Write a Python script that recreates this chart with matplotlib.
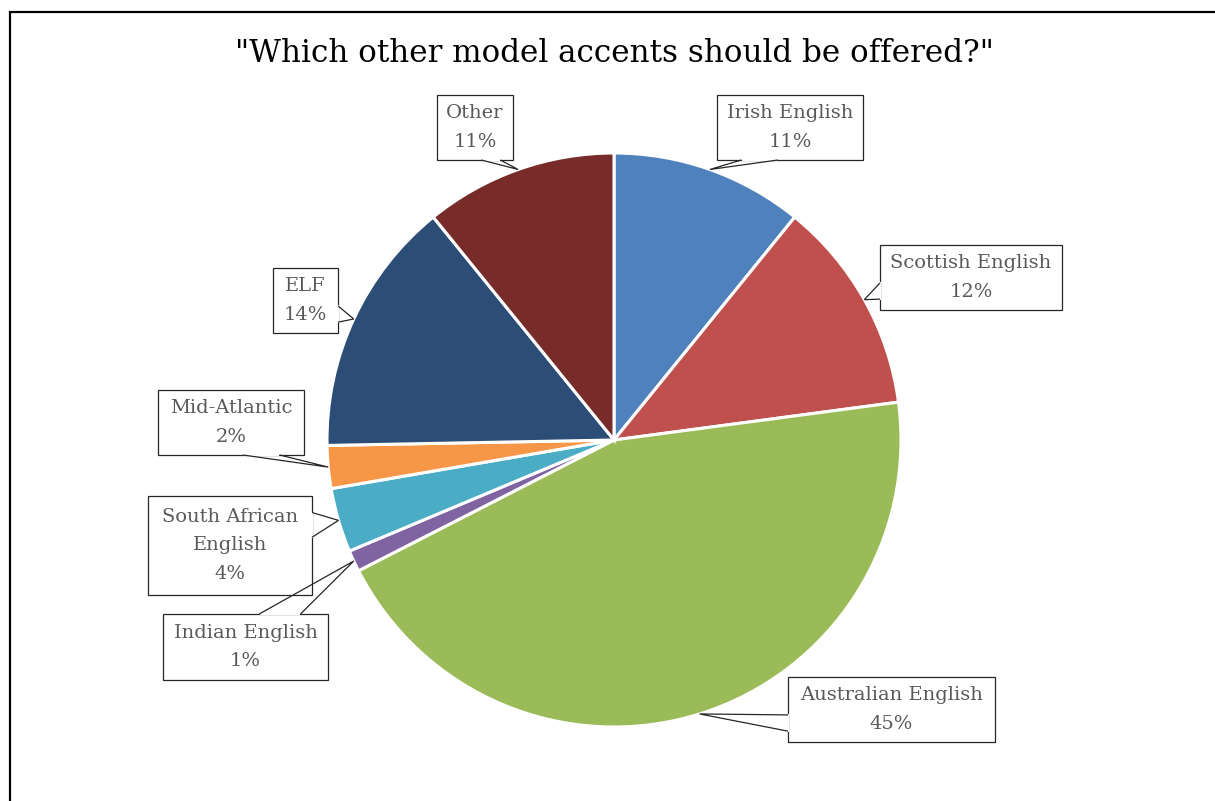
import numpy as np
import matplotlib.pyplot as plt
from matplotlib.patches import Rectangle, Polygon

# survey responses (counts), clockwise from 12 o'clock
labels = ['Irish English', 'Scottish English', 'Australian English', 'Indian English',
          'South African\nEnglish', 'Mid-Atlantic', 'ELF', 'Other']
counts = [9, 10, 37, 1, 3, 2, 12, 9]
colors = ['#4F81BD', '#C0504D', '#9BBB59', '#8064A2',
          '#4BACC6', '#F79646', '#2C4D75', '#772C2A']

# callout boxes in pixel coords: left, top, width, height (y from top)
boxes = [(717, 95, 146, 65), (880, 245, 182, 65), (788, 677, 207, 65), (163, 614, 165, 66),
         (148, 496, 164, 99), (158, 390, 146, 65), (273, 268, 65, 65), (437, 95, 76, 65)]

W, H = 1215, 801
cx, cy, R = 614, 440, 287

plt.rcParams['font.family'] = ['DejaVu Serif']
fig = plt.figure(figsize=(W / 100, H / 100), dpi=100)
ax = fig.add_axes([0, 0, 1, 1])
ax.axis('off')

wedges, _ = ax.pie(counts, colors=colors, startangle=90, counterclock=False,
                   center=(cx, H - cy), radius=R,
                   wedgeprops=dict(edgecolor='white', linewidth=2.2))
ax.set_xlim(0, W)
ax.set_ylim(0, H)
ax.set_aspect('equal')


def callout(tip, box):
    # wedge-shaped callout like Excel's: pointer base sits on the box edge facing the tip
    l, t, w, h = box
    bx, by = l + w / 2, t + h / 2
    tx, ty = tip
    dx, dy = (tx - bx) / w, (ty - by) / h
    if abs(dx) > abs(dy):
        ex = l + w if dx > 0 else l
        f = (7 / 12, 10 / 12) if dy > 0 else (2 / 12, 5 / 12)
        base = [(ex, t + h * f[0]), (ex, t + h * f[1])]
    else:
        ey = t + h if dy > 0 else t
        f = (7 / 12, 10 / 12) if dx > 0 else (2 / 12, 5 / 12)
        base = [(l + w * f[0], ey), (l + w * f[1], ey)]
    tri = [(x, H - y) for x, y in [base[0], (tx, ty), base[1]]]
    ax.add_patch(Polygon(tri, closed=False, fill=False, ec='#262626', lw=0.9, zorder=5))
    rect = Rectangle((l, H - t - h), w, h, fc='white', ec='#262626', lw=0.9, zorder=4)
    ax.add_patch(rect)
    # open the box edge where the pointer leaves it
    (x0, y0), (x1, y1) = tri[0], tri[2]
    if x0 == x1:
        ax.plot([x0, x1], [y0 + 0.6, y1 - 0.6], color='white', lw=1.5, zorder=4.5,
                solid_capstyle='butt')
    else:
        ax.plot([x0 + 0.6, x1 - 0.6], [y0, y1], color='white', lw=1.5, zorder=4.5,
                solid_capstyle='butt')
    return bx, H - by


total = sum(counts)
for w, lab, c, box in zip(wedges, labels, counts, boxes):
    mid = np.deg2rad((w.theta1 + w.theta2) / 2)
    tip = (cx + R * np.cos(mid), cy - R * np.sin(mid))
    px, py = callout(tip, box)
    pct = round(100 * c / total)
    ax.text(px, py, f'{lab}\n{pct}%', ha='center', va='center', fontsize=14,
            color='#595959', linespacing=1.75, zorder=6)

fig.text(614 / W, 1 - 53 / H, '"Which other model accents should be offered?"',
         ha='center', va='center', fontsize=22.3, color='black')

fig.patches.append(Rectangle((10 / W, -0.1), 1.2, 1.1 - 12 / H,
                             transform=fig.transFigure, fill=False,
                             ec='black', lw=1.6))

fig.savefig('out.png', dpi=100)
